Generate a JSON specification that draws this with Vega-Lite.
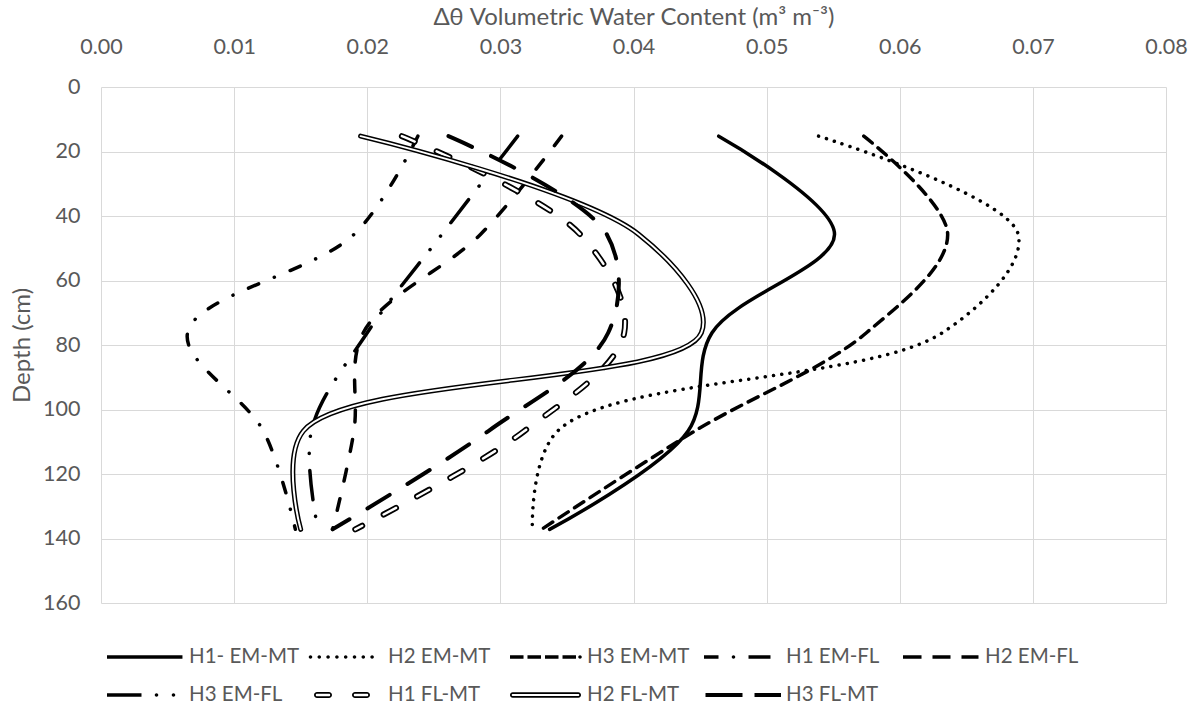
{
  "$schema": "https://vega.github.io/schema/vega-lite/v6.json",
  "autosize": "none",
  "width": 1065,
  "height": 516,
  "padding": {"left": 101, "top": 87, "right": 32, "bottom": 112},
  "background": "white",
  "config": {
    "font": "Lato",
    "view": {"stroke": null},
    "axis": {
      "grid": true, "gridColor": "#d9d9d9", "gridWidth": 1,
      "domain": false, "ticks": false, "tickSize": 0, "labelFlush": false,
      "labelFont": "Lato", "labelFontSize": 21.5, "labelColor": "#595959",
      "titleFont": "Lato", "titleFontSize": 24, "titleColor": "#595959", "titleFontWeight": "normal"
    }
  },
  "data": {"values": [
    {"series": "H1- EM-MT", "depth": 15.24, "vwc": 0.0464},
    {"series": "H1- EM-MT", "depth": 45.72, "vwc": 0.0551},
    {"series": "H1- EM-MT", "depth": 76.2, "vwc": 0.0459},
    {"series": "H1- EM-MT", "depth": 106.68, "vwc": 0.0441},
    {"series": "H1- EM-MT", "depth": 137.16, "vwc": 0.0337},
    {"series": "H2 EM-MT", "depth": 15.24, "vwc": 0.0539},
    {"series": "H2 EM-MT", "depth": 45.72, "vwc": 0.0689},
    {"series": "H2 EM-MT", "depth": 76.2, "vwc": 0.0632},
    {"series": "H2 EM-MT", "depth": 106.68, "vwc": 0.0343},
    {"series": "H2 EM-MT", "depth": 137.16, "vwc": 0.0324},
    {"series": "H3 EM-MT", "depth": 15.24, "vwc": 0.0573},
    {"series": "H3 EM-MT", "depth": 45.72, "vwc": 0.0636},
    {"series": "H3 EM-MT", "depth": 76.2, "vwc": 0.0575},
    {"series": "H3 EM-MT", "depth": 106.68, "vwc": 0.0446},
    {"series": "H3 EM-MT", "depth": 137.16, "vwc": 0.0331},
    {"series": "H1 EM-FL", "depth": 15.24, "vwc": 0.0238},
    {"series": "H1 EM-FL", "depth": 45.72, "vwc": 0.019},
    {"series": "H1 EM-FL", "depth": 76.2, "vwc": 0.0065},
    {"series": "H1 EM-FL", "depth": 106.68, "vwc": 0.0122},
    {"series": "H1 EM-FL", "depth": 137.16, "vwc": 0.0146},
    {"series": "H2 EM-FL", "depth": 15.24, "vwc": 0.0346},
    {"series": "H2 EM-FL", "depth": 45.72, "vwc": 0.0285},
    {"series": "H2 EM-FL", "depth": 76.2, "vwc": 0.0197},
    {"series": "H2 EM-FL", "depth": 106.68, "vwc": 0.019},
    {"series": "H2 EM-FL", "depth": 137.16, "vwc": 0.0174},
    {"series": "H3 EM-FL", "depth": 15.24, "vwc": 0.0313},
    {"series": "H3 EM-FL", "depth": 45.72, "vwc": 0.0256},
    {"series": "H3 EM-FL", "depth": 76.2, "vwc": 0.02},
    {"series": "H3 EM-FL", "depth": 106.68, "vwc": 0.0158},
    {"series": "H3 EM-FL", "depth": 137.16, "vwc": 0.0163},
    {"series": "H1 FL-MT", "depth": 15.24, "vwc": 0.0226},
    {"series": "H1 FL-MT", "depth": 45.72, "vwc": 0.036},
    {"series": "H1 FL-MT", "depth": 76.2, "vwc": 0.0393},
    {"series": "H1 FL-MT", "depth": 106.68, "vwc": 0.0318},
    {"series": "H1 FL-MT", "depth": 137.16, "vwc": 0.0191},
    {"series": "H2 FL-MT", "depth": 15.24, "vwc": 0.0195},
    {"series": "H2 FL-MT", "depth": 45.72, "vwc": 0.0404},
    {"series": "H2 FL-MT", "depth": 76.2, "vwc": 0.0451},
    {"series": "H2 FL-MT", "depth": 106.68, "vwc": 0.0152},
    {"series": "H2 FL-MT", "depth": 137.16, "vwc": 0.015},
    {"series": "H3 FL-MT", "depth": 15.24, "vwc": 0.0261},
    {"series": "H3 FL-MT", "depth": 45.72, "vwc": 0.038},
    {"series": "H3 FL-MT", "depth": 76.2, "vwc": 0.0381},
    {"series": "H3 FL-MT", "depth": 106.68, "vwc": 0.0291},
    {"series": "H3 FL-MT", "depth": 137.16, "vwc": 0.0174}
  ]},
  "encoding": {
    "x": {
      "field": "vwc", "type": "quantitative",
      "scale": {"domain": [0, 0.08], "nice": false, "zero": false},
      "axis": {
        "orient": "top",
        "values": [0, 0.01, 0.02, 0.03, 0.04, 0.05, 0.06, 0.07, 0.08],
        "format": ".2f",
        "labelBaseline": "middle",
        "labelPadding": 40,
        "title": "Δθ Volumetric Water Content (m³ m⁻³)",
        "titleY": -70,
        "titleBaseline": "middle"
      }
    },
    "y": {
      "field": "depth", "type": "quantitative",
      "scale": {"domain": [0, 160], "reverse": true, "nice": false, "zero": false},
      "axis": {
        "values": [0, 20, 40, 60, 80, 100, 120, 140, 160],
        "labelPadding": 21,
        "title": "Depth (cm)",
        "titleX": -79,
        "titleY": 258,
        "titleAngle": -90,
        "titleBaseline": "middle",
        "titleAlign": "center"
      }
    },
    "order": {"field": "depth", "type": "quantitative"}
  },
  "layer": [
    {
      "transform": [{"filter": {"field": "series", "equal": "H1- EM-MT"}}],
      "mark": {"type": "line", "interpolate": "catmull-rom", "color": "black", "strokeWidth": 3.5, "strokeCap": "round", "strokeJoin": "round"}
    },
    {
      "transform": [{"filter": {"field": "series", "equal": "H2 EM-MT"}}],
      "mark": {"type": "line", "interpolate": "catmull-rom", "color": "black", "strokeWidth": 3.5, "strokeCap": "round", "strokeJoin": "round", "strokeDash": [0.1, 8.2]}
    },
    {
      "transform": [{"filter": {"field": "series", "equal": "H3 EM-MT"}}],
      "mark": {"type": "line", "interpolate": "catmull-rom", "color": "black", "strokeWidth": 3.5, "strokeCap": "round", "strokeJoin": "round", "strokeDash": [11, 7.5]}
    },
    {
      "transform": [{"filter": {"field": "series", "equal": "H1 EM-FL"}}],
      "mark": {"type": "line", "interpolate": "catmull-rom", "color": "black", "strokeWidth": 3.5, "strokeCap": "round", "strokeJoin": "round", "strokeDash": [11, 17, 0.1, 17]}
    },
    {
      "transform": [{"filter": {"field": "series", "equal": "H2 EM-FL"}}],
      "mark": {"type": "line", "interpolate": "catmull-rom", "color": "black", "strokeWidth": 3.5, "strokeCap": "round", "strokeJoin": "round", "strokeDash": [12, 18]}
    },
    {
      "transform": [{"filter": {"field": "series", "equal": "H3 EM-FL"}}],
      "mark": {"type": "line", "interpolate": "catmull-rom", "color": "black", "strokeWidth": 3.5, "strokeCap": "round", "strokeJoin": "round", "strokeDash": [29, 17, 0.1, 17, 0.1, 17]}
    },
    {
      "transform": [{"filter": {"field": "series", "equal": "H1 FL-MT"}}],
      "mark": {"type": "line", "interpolate": "catmull-rom", "color": "black", "strokeWidth": 6, "strokeCap": "round", "strokeJoin": "round", "strokeDash": [14, 24]}
    },
    {
      "transform": [{"filter": {"field": "series", "equal": "H1 FL-MT"}}],
      "mark": {"type": "line", "interpolate": "catmull-rom", "color": "white", "strokeWidth": 2.5, "strokeCap": "round", "strokeJoin": "round", "strokeDash": [14, 24]}
    },
    {
      "transform": [{"filter": {"field": "series", "equal": "H2 FL-MT"}}],
      "mark": {"type": "line", "interpolate": "catmull-rom", "color": "black", "strokeWidth": 5, "strokeCap": "round", "strokeJoin": "round"}
    },
    {
      "transform": [{"filter": {"field": "series", "equal": "H2 FL-MT"}}],
      "mark": {"type": "line", "interpolate": "catmull-rom", "color": "white", "strokeWidth": 2, "strokeCap": "round", "strokeJoin": "round"}
    },
    {
      "transform": [{"filter": {"field": "series", "equal": "H3 FL-MT"}}],
      "mark": {"type": "line", "interpolate": "catmull-rom", "color": "black", "strokeWidth": 4, "strokeCap": "round", "strokeJoin": "round", "strokeDash": [26, 21]}
    },
    {
      "mark": {"type": "point", "filled": true, "opacity": 0, "color": "black"},
      "encoding": {
        "shape": {
          "field": "series", "type": "nominal",
          "scale": {
            "domain": ["H1- EM-MT", "H2 EM-MT", "H3 EM-MT", "H1 EM-FL", "H2 EM-FL", "H3 EM-FL", "H1 FL-MT", "H2 FL-MT", "H3 FL-MT"],
            "range": [
              "M-1,-0.0637H1.744V0.0637H-1Z",
              "M-0.9,0a0.0637,0.0637,0,1,0,0.1274,0a0.0637,0.0637,0,1,0,-0.1274,0Z M-0.5807,0a0.0637,0.0637,0,1,0,0.1274,0a0.0637,0.0637,0,1,0,-0.1274,0Z M-0.2601,0a0.0637,0.0637,0,1,0,0.1274,0a0.0637,0.0637,0,1,0,-0.1274,0Z M0.0605,0a0.0637,0.0637,0,1,0,0.1274,0a0.0637,0.0637,0,1,0,-0.1274,0Z M0.3797,0a0.0637,0.0637,0,1,0,0.1274,0a0.0637,0.0637,0,1,0,-0.1274,0Z M0.7003,0a0.0637,0.0637,0,1,0,0.1274,0a0.0637,0.0637,0,1,0,-0.1274,0Z M1.0195,0a0.0637,0.0637,0,1,0,0.1274,0a0.0637,0.0637,0,1,0,-0.1274,0Z M1.3401,0a0.0637,0.0637,0,1,0,0.1274,0a0.0637,0.0637,0,1,0,-0.1274,0Z",
              "M-0.818,-0.0637H-0.3266V0.0637H-0.818Z M-0.1824,-0.0637H0.309V0.0637H-0.1824Z M0.4546,-0.0637H0.946V0.0637H0.4546Z M1.0916,-0.0637H1.5816V0.0637H1.0916Z M1.6642,0a0.0637,0.0637,0,1,0,0.1274,0a0.0637,0.0637,0,1,0,-0.1274,0Z",
              "M-1,-0.0637H-0.4722V0.0637H-1Z M0.0087,0a0.0637,0.0637,0,1,0,0.1274,0a0.0637,0.0637,0,1,0,-0.1274,0Z M0.6184,-0.0637H1.4178V0.0637H0.6184Z",
              "M-1,-0.0637H-0.3266V0.0637H-1Z M0.0724,-0.0637H0.7276V0.0637H0.0724Z M1.1266,-0.0637H1.7454V0.0637H1.1266Z",
              "M-1,-0.0637H0.2544V0.0637H-1Z M0.7367,0a0.0637,0.0637,0,1,0,0.1274,0a0.0637,0.0637,0,1,0,-0.1274,0Z M1.3541,0a0.0637,0.0637,0,1,0,0.1274,0a0.0637,0.0637,0,1,0,-0.1274,0Z",
              "M-0.5996,-0.1091H-0.1642A0.1091,0.1091,0,0,1,-0.1642,0.1091H-0.5996A0.1091,0.1091,0,0,1,-0.5996,-0.1091Z M-0.5996,-0.0455A0.0455,0.0455,0,0,0,-0.5996,0.0455H-0.1642A0.0455,0.0455,0,0,0,-0.1642,-0.0455Z M0.7822,-0.1091H1.2176A0.1091,0.1091,0,0,1,1.2176,0.1091H0.7822A0.1091,0.1091,0,0,1,0.7822,-0.1091Z M0.7822,-0.0455A0.0455,0.0455,0,0,0,0.7822,0.0455H1.2176A0.0455,0.0455,0,0,0,1.2176,-0.0455Z",
              "M-0.7186,-0.1H1.6642A0.1,0.1,0,0,1,1.6642,0.1H-0.7186A0.1,0.1,0,0,1,-0.7186,-0.1Z M-0.7186,-0.0364A0.0364,0.0364,0,0,0,-0.7186,0.0364H1.6642A0.0364,0.0364,0,0,0,1.6642,-0.0364Z",
              "M-0.9454,-0.0728H0.4V0.0728H-0.9454Z M0.8368,-0.0728H1.8V0.0728H0.8368Z"
            ]
          },
          "legend": {
            "title": null,
            "orient": "none",
            "legendX": 6,
            "legendY": 542.5,
            "direction": "horizontal",
            "columns": 5,
            "gridAlign": "all",
            "columnPadding": 6,
            "rowPadding": 0,
            "padding": 0,
            "symbolSize": 3025,
            "symbolStrokeWidth": 0,
            "symbolOpacity": 1,
            "symbolFillColor": "black",
            "labelFont": "Lato",
            "labelFontSize": 20.5,
            "labelColor": "#595959",
            "labelOffset": 27,
            "labelLimit": 300
          }
        }
      }
    }
  ]
}
